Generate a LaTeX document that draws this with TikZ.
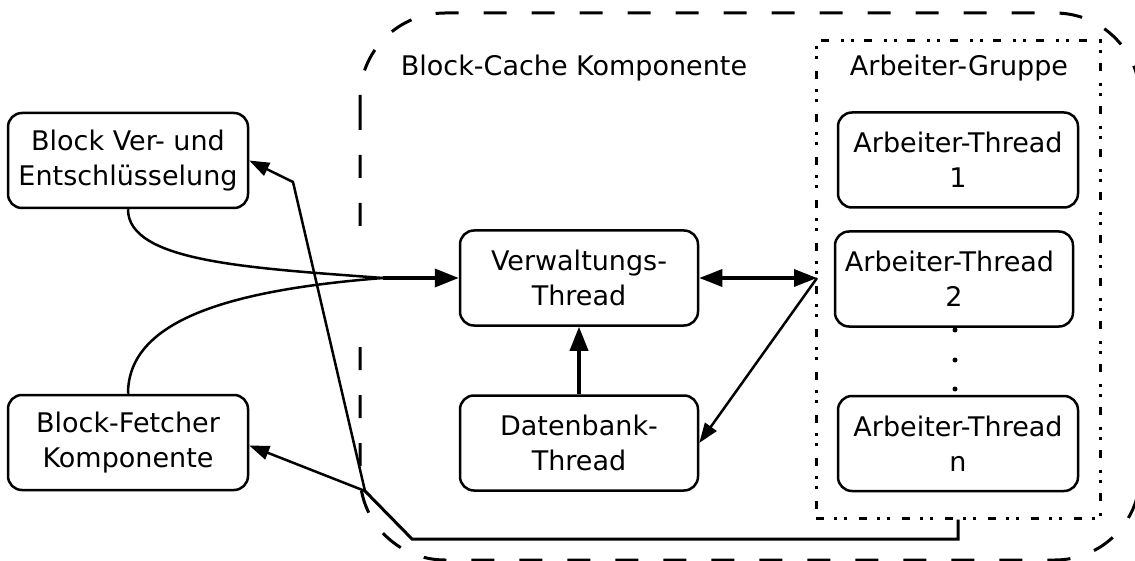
\documentclass[tikz,border=0pt]{standalone}
\usepackage{fontspec}
\setmainfont{DejaVu Sans}
\usetikzlibrary{arrows.meta}
\begin{document}
\begin{tikzpicture}[x=1pt,y=-1pt,
  txt/.style={font=\fontsize{27}{35}\selectfont},
  box/.style={txt, draw, line width=2.5pt, rounded corners=14pt,
    minimum width=240pt, minimum height=95pt, inner sep=0pt, align=center},
  lbl/.style={txt, inner sep=0pt},
  grpbox/.style={draw, line width=3pt,
    dash pattern=on 8pt off 10pt on 3pt off 7pt on 3pt off 12pt,
    minimum width=284pt, minimum height=477pt, inner sep=0pt},
  outerbox/.style={line width=3pt, dash pattern=on 23pt off 25pt, rounded corners=85pt},
  thinarrow/.style={line width=2.5pt, -{Triangle[length=20pt,width=14pt]}},
  boldarrow/.style={line width=3.5pt, -{Triangle[length=24pt,width=18pt]}},
  dblarrow/.style={line width=3.5pt,
    {Triangle[length=23pt,width=17pt]}-{Triangle[length=23pt,width=17pt]}},
  wire/.style={line width=2.5pt},
  busline/.style={line width=3pt},
]
\useasboundingbox (0,0) rectangle (1135,561);

% component frame of the block cache
\draw[outerbox] (360,107) -- (360,560) -- (1140,560) -- (1140,13) -- (360,13) -- (360,107);
\fill[white] (350,235) rectangle (372,332);

% worker group
\node[grpbox] (grp) at (958,279.5) {};
\node[lbl] (bcl) at (574,68) {Block-Cache Komponente};
\node[lbl] (agl) at (959,68) {Arbeiter-Gruppe};

% boxes
\node[box] (bve) at (128,160.5) {Block Ver- und\\Entschlüsselung};
\node[box] (bfk) at (128,442.5) {Block-Fetcher\\Komponente};
\node[box, minimum width=238pt] (verw) at (579,278) {Verwaltungs-\\Thread};
\node[box, minimum width=238pt] (db) at (579,443) {Datenbank-\\Thread};
\node[box] (at1) at (958,160) {Arbeiter-Thread\\1};
\node[box, minimum width=238pt] (at2) at (954,279) {Arbeiter-Thread\kern9pt\\2};
\node[box] (atn) at (958,443.5) {Arbeiter-Thread\\n};

% ellipsis between the workers
\fill (955,330) circle (2.5pt);
\fill (955,360) circle (2.5pt);
\fill (955,389) circle (2.5pt);

% connectors
\coordinate (m) at (383,278);
\coordinate (g) at (817,278);
\coordinate (c1) at (958,539);
\coordinate (c2) at (412,539);
\coordinate (j) at (365,491);
\coordinate (k) at (293,182);

\draw[wire] (bve.south) .. controls (128,262) and (250,268) .. (m);
\draw[wire] (bfk.north) .. controls (128,320) and (230,290) .. (m);
\draw[boldarrow] (m) -- (verw.west);
\draw[dblarrow] (verw.east) -- (g);
\draw[thinarrow] (g) -- (db.east);
\draw[boldarrow] (db.north) -- (verw.south);
\draw[busline] (grp.south) -- (c1) -- (c2) -- (j);
\draw[thinarrow] (j) -- ([yshift=-3pt]bfk.east);
\draw[thinarrow] (j) -- (k) -- (bve.east);
\end{tikzpicture}
\end{document}
